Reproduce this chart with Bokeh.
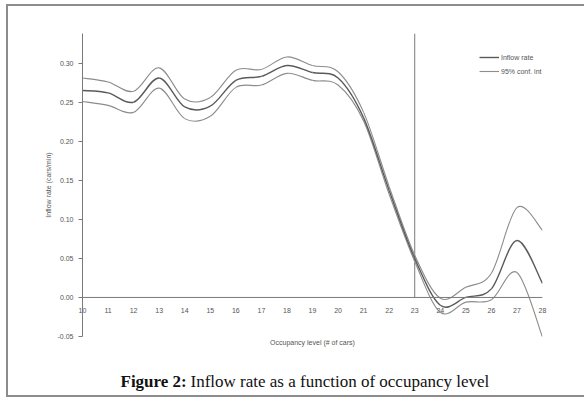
from bokeh.plotting import figure
from bokeh.layouts import column
from bokeh.models import Span, Legend, LegendItem, FixedTicker, Range1d, CustomJSTickFormatter
from bokeh.core.properties import value
from bokeh.embed import file_html
from bokeh.resources import INLINE

# ---- data ----
occupancy = list(range(10, 29))
inflow = [0.265, 0.262, 0.250, 0.281, 0.244, 0.245, 0.278, 0.283, 0.297, 0.288,
          0.281, 0.230, 0.137, 0.050, -0.010, 0.000, 0.011, 0.073, 0.018]
ci_upper = [0.281, 0.276, 0.264, 0.294, 0.254, 0.256, 0.291, 0.292, 0.308, 0.297,
            0.289, 0.237, 0.142, 0.054, -0.001, 0.013, 0.031, 0.115, 0.086]
ci_lower = [0.251, 0.246, 0.237, 0.268, 0.229, 0.232, 0.269, 0.272, 0.287, 0.278,
            0.272, 0.226, 0.132, 0.046, -0.019, -0.006, -0.003, 0.032, -0.051]
y_ticks = [-0.05, 0.00, 0.05, 0.10, 0.15, 0.20, 0.25, 0.30]
x_ticks = list(range(10, 29))
cut_level = 23
series_labels = ["Inflow rate", "95% conf. int."]
x_title = "Occupancy level (# of cars)"
y_title = "Inflow rate (cars/min)"
caption_bold = "Figure 2:"
caption_rest = "Inflow rate as a function of occupancy level"

W = 584
H_MAIN, H_CAP = 350, 48
FL, FT, FR, FB = 82, 33, 542, 336   # frame edges in canvas pixels
GREY = "#8c8c8c"

p = figure(width=W, height=H_MAIN, output_backend="svg", toolbar_location=None,
           x_range=Range1d(10, 28), y_range=Range1d(-0.05, 0.338),
           min_border_left=FL, min_border_right=W - FR, min_border_top=FT,
           min_border_bottom=H_MAIN - FB)
p.outline_line_color = None
p.grid.visible = False
p.background_fill_color = "white"
p.border_fill_color = None
# page border (left + top edges) painted behind the transparent canvas
p.styles = {
    "background-color": "white",
    "background-image": f"linear-gradient({GREY},{GREY}), linear-gradient({GREY},{GREY})",
    "background-size": "2px 400px, 620px 2px",
    "background-position": "6px 4px, 6px 4px",
    "background-repeat": "no-repeat",
}

AX = "#7a7a7a"
TXT = "#555555"
FONT = "Liberation Sans"

# y axis
ya = p.yaxis[0]
ya.ticker = FixedTicker(ticks=y_ticks)
ya.formatter = CustomJSTickFormatter(code="return tick.toFixed(2);")
ya.axis_line_color = AX
ya.major_tick_line_color = AX
ya.major_tick_out = 4
ya.major_tick_in = 0
ya.minor_tick_line_color = None
ya.major_label_text_font_size = "7px"
ya.major_label_text_color = TXT
ya.major_label_text_font = FONT
ya.major_label_standoff = 5
ya.axis_label = y_title
ya.axis_label_text_font_size = "7px"
ya.axis_label_text_font_style = "normal"
ya.axis_label_text_color = TXT
ya.axis_label_text_font = FONT
ya.axis_label_standoff = 3

# x axis (labels placed next to the zero line)
xa = p.xaxis[0]
xa.ticker = FixedTicker(ticks=x_ticks)
xa.axis_line_color = None
xa.major_tick_line_color = None
xa.minor_tick_line_color = None
xa.major_label_text_font_size = "7px"
xa.major_label_text_color = TXT
xa.major_label_text_font = FONT
xa.major_label_standoff = -35
xa.axis_label = x_title
xa.axis_label_text_font_size = "7px"
xa.axis_label_text_font_style = "normal"
xa.axis_label_text_color = TXT
xa.axis_label_text_font = FONT
xa.axis_label_standoff = 23

p.add_layout(Span(location=0, dimension="width", line_color=AX, line_width=1))
p.segment(x0=[cut_level], y0=[0], x1=[cut_level], y1=[p.y_range.end], line_color=AX, line_width=1)


def bez(xs, ys):
    n = len(xs)
    d = {k: [] for k in ["x0", "y0", "x1", "y1", "cx0", "cy0", "cx1", "cy1"]}
    for i in range(n - 1):
        im, ip = max(i - 1, 0), min(i + 2, n - 1)
        d["x0"].append(xs[i]); d["y0"].append(ys[i])
        d["x1"].append(xs[i + 1]); d["y1"].append(ys[i + 1])
        d["cx0"].append(xs[i] + (xs[i + 1] - xs[im]) / 6)
        d["cy0"].append(ys[i] + (ys[i + 1] - ys[im]) / 6)
        d["cx1"].append(xs[i + 1] - (xs[ip] - xs[i]) / 6)
        d["cy1"].append(ys[i + 1] - (ys[ip] - ys[i]) / 6)
    return d

MID = "#5a5a5a"
BAND = "#8c8c8c"
for ys in (ci_upper, ci_lower):
    p.bezier(source=bez(occupancy, ys), x0="x0", y0="y0", x1="x1", y1="y1",
             cx0="cx0", cy0="cy0", cx1="cx1", cy1="cy1", line_color=BAND, line_width=1.1)
p.bezier(source=bez(occupancy, inflow), x0="x0", y0="y0", x1="x1", y1="y1",
         cx0="cx0", cy0="cy0", cx1="cx1", cy1="cy1", line_color=MID, line_width=1.4)

# legend swatches (renderers that draw nothing in the plot)
nan = float("nan")
l1 = p.line(x=[10, 11], y=[nan, nan], line_color=MID, line_width=1.4)
l2 = p.line(x=[10, 11], y=[nan, nan], line_color=BAND, line_width=1.1)
legend = Legend(items=[LegendItem(label=series_labels[0], renderers=[l1], index=0),
                       LegendItem(label=series_labels[1], renderers=[l2], index=0)],
                location=(397, 260), border_line_color=None, background_fill_alpha=0,
                label_text_font_size="7px", label_text_color=TXT, label_text_font=FONT,
                glyph_width=20, glyph_height=10, label_height=10, spacing=4, padding=2,
                label_standoff=2, margin=0)
p.add_layout(legend, "center")

# caption strip below the chart (its frame is aligned with the chart frame: canvas x FL..FR)
cap = figure(width=W, height=H_CAP, output_backend="svg", toolbar_location=None,
             x_range=Range1d(FL, FR), y_range=Range1d(0, H_CAP),
             min_border=0, x_axis_type=None, y_axis_type=None)
cap.outline_line_color = None
cap.grid.visible = False
cap.background_fill_color = None
cap.border_fill_color = None
cap.styles = {
    "background-color": "white",
    "background-image": f"linear-gradient({GREY},{GREY}), linear-gradient({GREY},{GREY})",
    "background-size": f"2px {H_CAP - 1}px, 620px 2px",
    "background-position": f"6px 0px, 6px {H_CAP - 3}px",
    "background-repeat": "no-repeat",
}
cap_y = H_CAP - (381 - H_MAIN)
cap.text(x=[120], y=[cap_y], text=[caption_bold], text_font=value("Liberation Serif"),
         text_font_size="17px", text_font_style="bold", text_baseline="middle",
         text_color="#111111")
cap.text(x=[190], y=[cap_y], text=[caption_rest], text_font=value("Liberation Serif"),
         text_font_size="17px", text_baseline="middle", text_color="#111111")

layout = column(p, cap, spacing=0)
open("out.html", "w").write(file_html(layout, INLINE))
